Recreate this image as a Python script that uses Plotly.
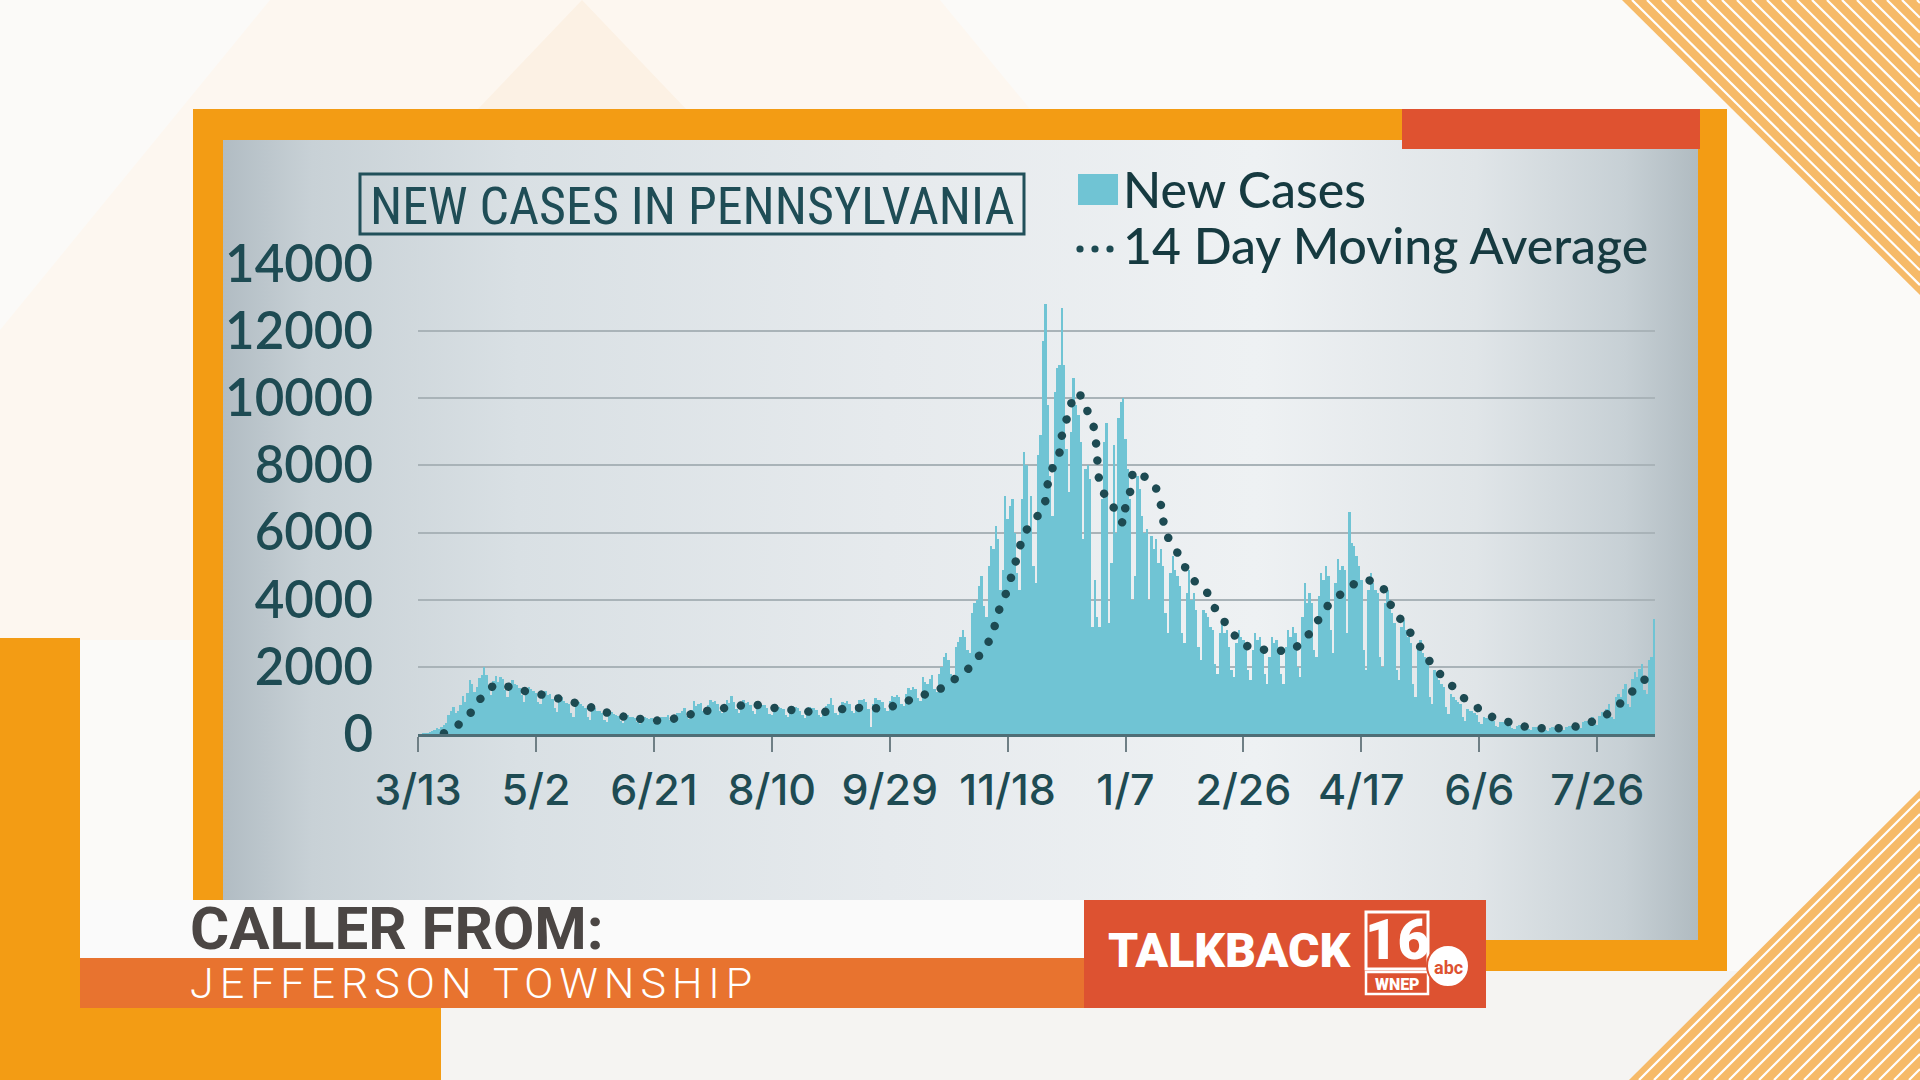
import pandas as pd
import plotly.graph_objects as go

# ---------------- data ----------------
start_date = "2020-03-13"

# daily new cases, one row per week (Fri..Thu), from 3/13/2020
new_cases = [
    10, 15, 22, 30, 40, 55, 80,
    130, 180, 160, 200, 270, 330, 560,
    700, 800, 640, 690, 870, 1130, 960,
    1210, 1600, 1500, 1260, 1400, 1680, 1750,
    1990, 1750, 1470, 1160, 1580, 1720, 1550,
    1700, 1640, 1300, 1100, 1460, 1600, 1500,
    1450, 1370, 1150, 950, 1300, 1400, 1350,
    1280, 1210, 950, 890, 1250, 1290, 1150,
    1200, 1050, 780, 650, 1000, 1100, 980,
    930, 890, 620, 500, 870, 940, 880,
    820, 780, 510, 430, 730, 780, 700,
    680, 640, 420, 360, 600, 650, 590,
    560, 540, 380, 340, 500, 560, 520,
    500, 470, 350, 310, 450, 520, 480,
    450, 480, 330, 300, 470, 520, 500,
    520, 560, 410, 380, 580, 640, 630,
    700, 760, 540, 450, 720, 980, 820,
    880, 930, 680, 600, 860, 1000, 950,
    980, 900, 700, 620, 860, 1010, 930,
    1120, 960, 740, 640, 880, 1000, 910,
    960, 870, 700, 610, 800, 920, 860,
    870, 780, 610, 560, 720, 850, 810,
    780, 730, 580, 520, 700, 820, 790,
    760, 700, 560, 490, 680, 800, 770,
    760, 720, 580, 520, 720, 830, 880,
    1080, 850, 640, 580, 800, 960, 930,
    980, 900, 700, 640, 850, 1000, 1020,
    1050, 960, 740, 200, 880, 1060, 1020,
    1000, 940, 760, 700, 980, 1120, 1100,
    1150, 1100, 880, 820, 1200, 1380, 1300,
    1400, 1350, 1060, 980, 1700, 1550, 1500,
    1650, 1750, 1350, 1250, 1800, 2000, 2300,
    2400, 2200, 1800, 1700, 2600, 2750, 2900,
    3100, 2900, 2500, 2400, 3600, 3900, 4000,
    4400, 4700, 3800, 3500, 5000, 5600, 5500,
    6200, 5800, 4300, 4900, 7100, 6400, 6800,
    7000, 6000, 4800, 4300, 7000, 8400, 8000,
    6200, 7100, 5000, 4500, 8300, 8900, 11700,
    12800, 9800, 7700, 6500, 10200, 10900, 11000,
    12700, 11000, 8500, 7200, 9000, 10600, 9800,
    9500, 8700, 5800, 7900, 8000, 7600, 3200,
    4600, 3500, 3200, 7000, 8700, 9250, 3300,
    5100, 8600, 6000, 9400, 9900, 10000, 8800,
    7900, 7000, 4000, 4700, 7700, 7300, 6500,
    6000, 6100, 4000, 5900, 5500, 5800, 5100,
    5500, 5000, 3600, 3000, 4800, 5300, 4900,
    4700, 4400, 3000, 2700, 4200, 4900, 4000,
    4200, 3700, 2600, 2200, 3700, 3600, 3500,
    3200, 3100, 2100, 1800, 3000, 3300, 3000,
    3100, 2600, 1900, 1700, 2700, 3100, 2900,
    2800, 2700, 1900, 1600, 2500, 3000, 2800,
    2900, 2600, 1800, 1500, 2300, 2900, 2700,
    2800, 2600, 1800, 1500, 2600, 3100, 2900,
    3200, 3000, 2000, 1700, 3500, 4500, 3900,
    4200, 3900, 2500, 2300, 4100, 4800, 4600,
    5000, 4700, 3100, 2400, 4500, 5200, 4900,
    5000, 4900, 3000, 6600, 5700, 5600, 5300,
    5000, 4600, 2500, 1900, 4300, 4800, 4500,
    4300, 4200, 2300, 2000, 3900, 4300, 4000,
    3600, 3300, 1900, 1600, 3200, 3400, 3100,
    2900, 2700, 1500, 1100, 2500, 2800, 2400,
    2300, 2100, 1100, 900, 1900, 1800, 1600,
    1500, 1400, 800, 600, 1200, 1100, 1000,
    950, 900, 500, 400, 750, 700, 680,
    620, 560, 350, 300, 500, 480, 450,
    420, 400, 250, 200, 360, 350, 330,
    300, 280, 180, 150, 250, 260, 240,
    220, 200, 140, 120, 200, 210, 200,
    180, 170, 120, 100, 180, 200, 190,
    200, 180, 130, 110, 210, 240, 250,
    280, 300, 200, 170, 350, 400, 380,
    450, 500, 300, 280, 550, 650, 600,
    750, 900, 500, 450, 1100, 1200, 1100,
    1350, 1500, 900, 800, 1650, 1850, 1700,
    1950, 2100, 1300, 1200, 2200, 2300, 3430,
]

# 14 day moving average: day offset from start_date, value
ma_day = [11, 13, 19, 24, 28, 33, 40, 47, 54, 60, 67, 74, 80, 87, 94, 101, 108, 114,
          121, 128, 135, 142, 149, 156, 163, 169, 176, 183, 190, 198, 204, 211, 217,
          224, 229, 235, 239, 243, 245, 247, 250, 252, 254, 256, 259, 263, 266, 267,
          269, 272, 273, 275, 277, 280, 283, 285, 287, 288, 289, 292, 296, 299, 300,
          302, 303, 306, 310, 313, 315, 316, 318, 322, 325, 329, 334, 337, 341, 345,
          349, 356, 362, 369, 375, 379, 383, 387, 392, 397, 403, 409, 412, 416, 420,
          424, 428, 432, 437, 442, 448, 453, 460, 466, 473, 480, 487, 494, 501, 507,
          512, 517, 522, 524]
ma_value = [20, 100, 370, 780, 1200, 1470, 1380, 1250, 1150, 1050, 920, 780, 640, 520,
            450, 400, 450, 560, 670, 750, 830, 880, 800, 730, 690, 640, 690, 780, 770,
            770, 890, 1080, 1230, 1430, 1720, 2040, 2450, 2870, 3340, 3830, 4300, 4800,
            5270, 5750, 6200, 6520, 6940, 7440, 7910, 8380, 8880, 9370, 9850, 10180,
            9720, 9480, 9000, 8200, 7490, 7010, 6650, 6270, 6770, 7230, 7730, 7850,
            7460, 7310, 6820, 6350, 5860, 5400, 5000, 4570, 4280, 3850, 3430, 3070,
            2690, 2540, 2490, 2490, 2710, 3110, 3530, 3930, 4200, 4470, 4580, 4370,
            3900, 3480, 3090, 2700, 2260, 1880, 1550, 1150, 850, 570, 420, 270, 180,
            170, 180, 270, 460, 720, 1070, 1410, 1750, 1880]

tick_days = [0, 50, 100, 150, 200, 250, 300, 350, 400, 450, 500]
tick_labels = ["3/13", "5/2", "6/21", "8/10", "9/29", "11/18",
               "1/7", "2/26", "4/17", "6/6", "7/26"]
y_ticks = [0, 2000, 4000, 6000, 8000, 10000, 12000, 14000]
y_tick_labels = ["0", "2000", "4000", "6000", "8000", "10000", "12000", "14000"]

title_text = "NEW CASES IN PENNSYLVANIA"
legend_bar = "New Cases"
legend_line = "14 Day Moving Average"
caller_label = "CALLER FROM:"
caller_place = "JEFFERSON TOWNSHIP"

# ---------------- derived ----------------
t0 = pd.Timestamp(start_date)
dates = pd.date_range(start_date, periods=len(new_cases), freq="D")
ma_dates = t0 + pd.to_timedelta(ma_day, unit="D")
tick_dates = t0 + pd.to_timedelta(tick_days, unit="D")
x_end = t0 + pd.Timedelta(days=524.5)

W, H = 1920, 1080
TEAL_DARK = "#1d4a52"
TEXT_DARK = "#163a40"
ORANGE = "#f39c14"

def fx(x):
    return x / W

def fy(y):
    return 1 - y / H

shapes = []
def rect(x0, y0, x1, y1, fill, layer="below", line=None):
    shapes.append(dict(type="rect", xref="paper", yref="paper",
                       x0=fx(x0), x1=fx(x1), y0=fy(y1), y1=fy(y0),
                       fillcolor=fill, layer=layer,
                       line=line if line else dict(width=0)))

def poly(pts, fill, layer="below"):
    d = "M " + " L ".join(f"{fx(a):.5f},{fy(b):.5f}" for a, b in pts) + " Z"
    shapes.append(dict(type="path", xref="paper", yref="paper", path=d,
                       fillcolor=fill, line=dict(width=0), layer=layer))

def seg(x0, y0, x1, y1, color, width, layer="below"):
    shapes.append(dict(type="line", xref="paper", yref="paper",
                       x0=fx(x0), y0=fy(y0), x1=fx(x1), y1=fy(y1),
                       line=dict(color=color, width=width), layer=layer))

def circ(cx, cy, r, fill, layer="above", line=None):
    shapes.append(dict(type="circle", xref="paper", yref="paper",
                       x0=fx(cx - r), x1=fx(cx + r), y0=fy(cy + r), y1=fy(cy - r),
                       fillcolor=fill, layer=layer,
                       line=line if line else dict(width=0)))

# background decorations (below)
poly([(0, 330), (270, 0), (940, 0), (1030, 109), (193, 109), (193, 640), (0, 640)], "#fdf7f0")
poly([(478, 109), (582, 0), (686, 109)], "#fcf1e4")
rect(0, 971, W, H, "#f5f4f2")
# top-right stripes
poly([(1622, 0), (1920, 0), (1920, 295)], "#f6ba68")
for d in range(10, 298, 15):
    seg(1622 + d, 0, 1920, (298 - d) * 0.99, "#ffffff", 2.2)
# bottom-right stripes
poly([(1920, 790), (1629, 1080), (1920, 1080)], "#f6ba68")
for d in range(10, 291, 15):
    seg(1629 + d, 1080, 1920, 1080 - (291 - d), "#ffffff", 2.2)
# orange L on the left
rect(0, 638, 80, H, ORANGE)
rect(0, 1008, 441, H, ORANGE)
# orange frame
rect(193, 109, 1727, 971, ORANGE)

# above-layer decorations
rect(1402, 109, 1700, 149, "#df5230", layer="above")
rect(360, 174, 1024, 234, "rgba(0,0,0,0)", layer="above",
     line=dict(color="#21505a", width=3))
rect(1078, 174, 1118, 205, "#70c4d4", layer="above")
for cx in (1080, 1095, 1110):
    circ(cx, 249, 3.6, TEAL_DARK)
# banner
rect(80, 900, 1084, 958, "#fafafa", layer="above")
rect(80, 958, 1084, 1008, "#e8732f", layer="above")
rect(1084, 900, 1486, 1008, "#dd5231", layer="above")
# logo
rect(1366, 912, 1428, 969, "rgba(0,0,0,0)", layer="above",
     line=dict(color="#ffffff", width=3))
rect(1366, 972, 1428, 994, "rgba(0,0,0,0)", layer="above",
     line=dict(color="#ffffff", width=2.5))
circ(1448, 966, 21, "#ffffff", line=dict(color="#dd5231", width=2))

fig = go.Figure()

# panel with gradient (background axes in pixel units)
fig.add_trace(go.Scatter(
    x=[223, 1698, 1698, 223, 223], y=[140, 140, 940, 940, 140],
    xaxis="x", yaxis="y", mode="lines", fill="toself",
    line=dict(width=0, color="rgba(0,0,0,0)"),
    fillgradient=dict(type="horizontal",
                      colorscale=[[0, "#b1bcc3"], [0.06, "#c8d1d6"], [0.2, "#d9e0e4"],
                                  [0.45, "#e6eaed"], [0.7, "#eef1f3"], [0.85, "#e0e5e8"],
                                  [0.95, "#c7d0d5"], [1, "#b0bbc1"]]),
    hoverinfo="skip", showlegend=False))

# bars
fig.add_trace(go.Bar(
    x=dates, y=new_cases, xaxis="x2", yaxis="y2", name=legend_bar,
    marker=dict(color="#70c4d4", line=dict(width=0)),
    hoverinfo="skip", showlegend=False))

# moving average
fig.add_trace(go.Scatter(
    x=ma_dates, y=ma_value, xaxis="x2", yaxis="y2", name=legend_line,
    mode="lines", line=dict(color=TEAL_DARK, width=8.5, dash="8px,9px", shape="spline", smoothing=0.6),
    hoverinfo="skip", showlegend=False))

x_tick_font = dict(family="Inter, Lato, sans-serif", size=43, color="#1e4b53", weight=500)
y_tick_font = dict(family="Lato, 'Open Sans', sans-serif", size=51, color="#1e4b53", weight=600)

annotations = []
def text(x, y, s, size, color, family="Lato, sans-serif", weight=400, xanchor="left"):
    annotations.append(dict(xref="paper", yref="paper", x=fx(x), y=fy(y), text=s,
                            showarrow=False, xanchor=xanchor, yanchor="middle",
                            font=dict(family=family, size=size, color=color, weight=weight)))

text(692, 206, title_text, 52, "#1f4d56",
     family="'Liberation Sans Narrow', 'Roboto Condensed', Roboto, sans-serif", weight=400, xanchor="center")
text(1121, 189, legend_bar, 50, TEXT_DARK, weight=500)
text(1121, 245, legend_line, 50, TEXT_DARK, weight=500)
text(188, 928, caller_label, 60, "#4b4644", family="Roboto, sans-serif", weight=700)
text(188, 983, '<span style="letter-spacing:6px">' + caller_place + '</span>', 43, "#ffffff",
     family="Roboto, sans-serif", weight=300)
text(1106, 950, "TALKBACK", 48, "#ffffff", family="Roboto, sans-serif", weight=900)
text(1397, 940, "16", 56, "#ffffff", family="Roboto, sans-serif", weight=900, xanchor="center")
text(1397, 984, "WNEP", 16, "#ffffff", family="Roboto, sans-serif", weight=900, xanchor="center")
text(1448, 967, "abc", 18, "#dd5231", family="Roboto, sans-serif", weight=700, xanchor="center")

fig.update_layout(
    width=W, height=H, autosize=False,
    margin=dict(l=0, r=0, t=0, b=0, pad=0, autoexpand=False),
    paper_bgcolor="#fbfaf8", plot_bgcolor="rgba(0,0,0,0)",
    showlegend=False, hovermode=False, bargap=0,
    shapes=shapes, annotations=annotations,
    xaxis=dict(domain=[0, 1], range=[0, W], visible=False, fixedrange=True, automargin=False),
    yaxis=dict(domain=[0, 1], range=[H, 0], visible=False, fixedrange=True, automargin=False),
    xaxis2=dict(domain=[fx(418), fx(1655)], anchor="y2", type="date", automargin=False,
                range=[t0, x_end], tickmode="array", tickvals=tick_dates, ticktext=tick_labels,
                tickangle=0,
                ticks="outside", ticklen=15, tickwidth=2, tickcolor="#6f7f85",
                showline=True, linecolor="#4f6e76", linewidth=2.5, showgrid=False,
                zeroline=False, tickfont=x_tick_font, ticklabelstandoff=2, fixedrange=True),
    yaxis2=dict(domain=[fy(734), fy(264)], anchor="x2", range=[0, 14000], automargin=False,
                tickmode="array", tickvals=y_ticks, ticktext=y_tick_labels,
                showgrid=True, gridcolor="#a9b3b8", gridwidth=2, zeroline=False,
                showline=False, ticks="", tickfont=y_tick_font,
                ticklabelstandoff=44, fixedrange=True),
)

post = """
(function(){
  function fix(){
    document.querySelectorAll('g.scatterlayer path.js-line').forEach(function(p){
      var w = parseFloat(p.style.strokeWidth || p.getAttribute('stroke-width') || 0);
      if (w >= 6) { p.style.strokeDasharray = '0.01px 17px'; p.style.strokeLinecap = 'round'; }
    });
  }
  fix(); setTimeout(fix, 50); setTimeout(fix, 300);
})();
"""

fig.write_html("out.html", config={"displayModeBar": False, "staticPlot": True}, post_script=post)
